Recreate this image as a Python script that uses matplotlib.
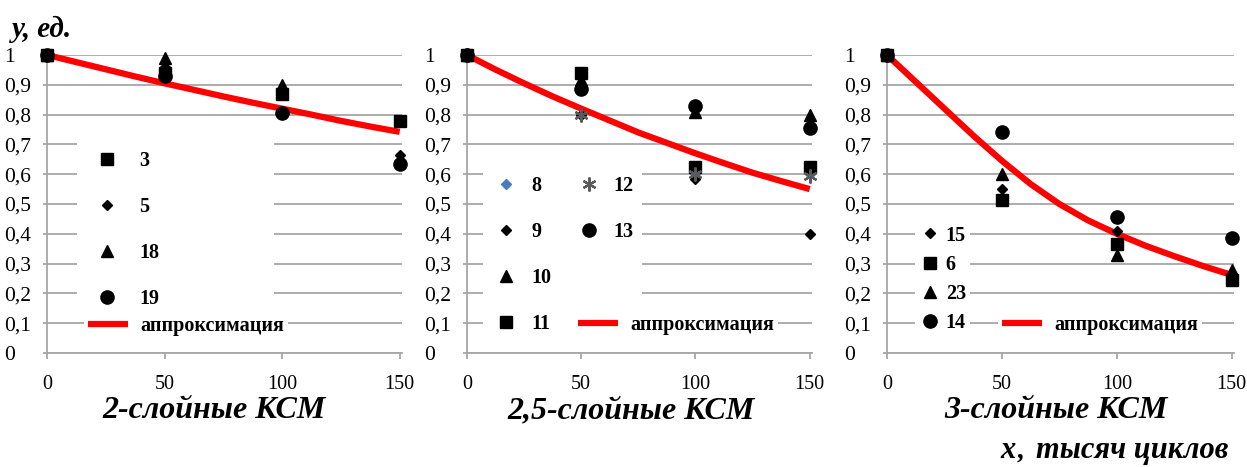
import matplotlib
matplotlib.use('Agg')
import matplotlib.pyplot as plt
from matplotlib.lines import Line2D

# ---------------- data ----------------
x_cycles = [0, 50, 100, 150]
x_tick_labels = ['0', '50', '100', '150']
y_ticks = [0, 0.1, 0.2, 0.3, 0.4, 0.5, 0.6, 0.7, 0.8, 0.9, 1.0]
y_tick_labels = ['0', '0,1', '0,2', '0,3', '0,4', '0,5', '0,6', '0,7', '0,8', '0,9', '1']
approx_x = [0, 12.5, 25, 37.5, 50, 62.5, 75, 87.5, 100, 112.5, 125, 137.5, 150]

# 2-layer
p1_s3 = [1.0, 0.94, 0.87, 0.78]
p1_s5 = [1.0, 0.96, 0.88, 0.665]
p1_s18 = [1.0, 0.99, 0.90, 0.655]
p1_s19 = [1.0, 0.93, 0.805, 0.635]
p1_approx = [1.0, 0.976, 0.952, 0.928, 0.905, 0.883, 0.861, 0.84, 0.82, 0.80, 0.779, 0.76, 0.742]

# 2.5-layer
p2_s8 = [1.0, 0.80, 0.60, 0.60]
p2_s9 = [1.0, 0.80, 0.585, 0.40]
p2_s10 = [1.0, 0.915, 0.81, 0.80]
p2_s11 = [1.0, 0.94, 0.625, 0.625]
p2_s12 = [1.0, 0.80, 0.60, 0.595]
p2_s13 = [1.0, 0.885, 0.83, 0.755]
p2_approx = [1.0, 0.951, 0.905, 0.861, 0.82, 0.78, 0.74, 0.705, 0.67, 0.637, 0.605, 0.577, 0.55]

# 3-layer
p3_s15 = [1.0, 0.55, 0.41, 0.26]
p3_s6 = [1.0, 0.515, 0.365, 0.245]
p3_s23 = [1.0, 0.60, 0.33, 0.28]
p3_s14 = [1.0, 0.74, 0.455, 0.385]
p3_approx = [1.0, 0.91, 0.82, 0.73, 0.645, 0.567, 0.50, 0.445, 0.40, 0.36, 0.325, 0.292, 0.262]

titles = ['2-слойные КСМ', '2,5-слойные КСМ', '3-слойные КСМ']
approx_label = 'аппроксимация'

# ---------------- style ----------------
SERIF = ['Liberation Serif', 'DejaVu Serif']
plt.rcParams['font.family'] = SERIF
GRID = '#a6a6a6'
RED = '#ff0000'

STYLES = {
    'sq': dict(marker='s', ms=9, color='black'),
    'di': dict(marker='D', ms=5, color='black'),
    'tr': dict(marker='^', ms=9, color='black'),
    'ci': dict(marker='o', ms=9.5, color='black'),
    'bd': dict(marker='D', ms=5.5, color='#4a7ebb'),
    'st': dict(marker=(6, 2, 0), ms=10, color='#5a5a5a', mew=1.6),
}

fig = plt.figure(figsize=(12.47, 4.67), dpi=100)

bottom, height = 1 - 353 / 467, (353 - 55) / 467
axes_pos = [
    (47 / 1247, 355 / 1247),
    (467 / 1247, 345 / 1247),
    (887 / 1247, 347 / 1247),
]


def setup(ax):
    ax.set_xlim(0, 151)
    ax.set_ylim(0, 1)
    ax.set_yticks(y_ticks)
    ax.set_yticklabels(y_tick_labels, ha='left')
    ax.set_xticks(x_cycles)
    ax.set_xticklabels(x_tick_labels)
    ax.grid(axis='y', color=GRID, lw=1.3)
    ax.set_axisbelow(True)
    for s in ['top', 'right']:
        ax.spines[s].set_visible(False)
    for s in ['left', 'bottom']:
        ax.spines[s].set_color(GRID)
        ax.spines[s].set_linewidth(1.3)
    ax.tick_params(axis='y', length=3, color=GRID, width=1.3, pad=28, labelsize=15.5)
    ax.tick_params(axis='x', length=4, color=GRID, width=1.3, pad=12, labelsize=14.5)


def draw(ax, series, approx_y):
    handles = []
    for lab, ys, st in series:
        kw = dict(STYLES[st])
        color = kw.pop('color')
        mew = kw.pop('mew', 1)
        h, = ax.plot(x_cycles, ys, linestyle='none', color=color, mec=color, mew=mew,
                     clip_on=False, zorder=4, label=lab, **kw)
        handles.append(h)
    a, = ax.plot(approx_x, approx_y, color=RED, lw=4.5, solid_capstyle='butt',
                 solid_joinstyle='round', zorder=3, clip_on=False, label=approx_label)
    return handles, a


LEG_KW = dict(frameon=True, facecolor='white', edgecolor='none', framealpha=1,
              prop=dict(family=SERIF, weight='bold', size=14.5), fancybox=False)

axs = [fig.add_axes([l, bottom, w, height]) for l, w in axes_pos]
for ax in axs:
    setup(ax)

# panel 1
h1, a1 = draw(axs[0], [('3', p1_s3, 'sq'), ('5', p1_s5, 'di'),
                        ('18', p1_s18, 'tr'), ('19', p1_s19, 'ci')], p1_approx)
lg = axs[0].legend(handles=h1, loc='upper left', mode='expand',
                   bbox_to_anchor=(8.5, 0.73, 92.5, 0.01),
                   bbox_transform=axs[0].transData, handlelength=2.2, handletextpad=0.5,
                   labelspacing=1.3, borderpad=0.4, **LEG_KW)
axs[0].add_artist(lg)
axs[0].legend(handles=[a1], loc='center left', bbox_to_anchor=(11.5, 0.09),
              bbox_transform=axs[0].transData, handlelength=2.0, handletextpad=0.6,
              borderpad=0.2, **LEG_KW)

# panel 2
h2, a2 = draw(axs[1], [('8', p2_s8, 'bd'), ('9', p2_s9, 'di'), ('10', p2_s10, 'tr'),
                        ('11', p2_s11, 'sq'), ('12', p2_s12, 'st'), ('13', p2_s13, 'ci')],
              p2_approx)
blank = Line2D([], [], linestyle='none', label=' ')
lg = axs[1].legend(handles=h2 + [blank, blank], ncol=2, loc='upper left',
                   bbox_to_anchor=(2.6, 0.655), bbox_transform=axs[1].transData,
                   handlelength=1.5, handletextpad=0.5, columnspacing=1.1,
                   labelspacing=1.3, borderpad=0.4, **LEG_KW)
axs[1].add_artist(lg)
axs[1].legend(handles=[a2], loc='center left', bbox_to_anchor=(42.5, 0.095),
              bbox_transform=axs[1].transData, handlelength=2.0, handletextpad=0.6,
              borderpad=0.2, **LEG_KW)

# panel 3
h3, a3 = draw(axs[2], [('15', p3_s15, 'di'), ('6', p3_s6, 'sq'),
                        ('23', p3_s23, 'tr'), ('14', p3_s14, 'ci')], p3_approx)
lg = axs[2].legend(handles=h3, loc='upper left', bbox_to_anchor=(8.0, 0.475),
                   bbox_transform=axs[2].transData, handlelength=1.0, handletextpad=0.3,
                   labelspacing=0.45, borderpad=0.2, **LEG_KW)
axs[2].add_artist(lg)
axs[2].legend(handles=[a3], loc='center left', bbox_to_anchor=(44.0, 0.095),
              bbox_transform=axs[2].transData, handlelength=2.0, handletextpad=0.6,
              borderpad=0.2, **LEG_KW)

# texts
TXT = dict(family=SERIF, weight='bold', style='italic')
fig.text(12 / 1247, 1 - 29 / 467, 'y, ед.', ha='left', va='center', size=21, **TXT)
for cx, t in zip([214, 631, 1056], titles):
    fig.text(cx / 1247, 1 - 411 / 467, t, ha='center', va='center', size=23, **TXT)
fig.text(1000 / 1247, 1 - 458 / 467, 'x', ha='left', va='baseline', size=22, **TXT)
fig.text(1018 / 1247, 1 - 458 / 467, ',', ha='left', va='baseline', size=20, **TXT)
fig.text(1036 / 1247, 1 - 458 / 467, 'тысяч циклов', ha='left', va='baseline',
         size=22, **TXT)

fig.savefig('out.png', dpi=100)
